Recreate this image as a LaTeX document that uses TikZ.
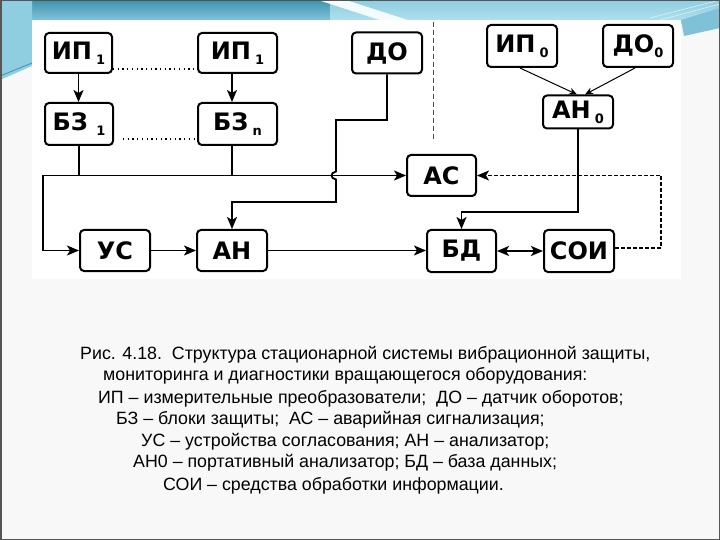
\documentclass[tikz,border=0pt]{standalone}
\usepackage{fontspec}
\setmainfont{Liberation Sans}
\newfontfamily\boxfont{DejaVu Sans}
\usetikzlibrary{arrows.meta}
\definecolor{slidebg}{HTML}{F8F8F8}
\definecolor{tealdark}{HTML}{3F93AE}
\definecolor{teallight}{HTML}{8FCDE0}
\definecolor{tealpale}{HTML}{B5E3EF}
\definecolor{framegray}{HTML}{555555}
\newcommand\sbs[1]{\raisebox{-5pt}{\fontsize{13}{13}\selectfont #1}}
\begin{document}
\begin{tikzpicture}[x=1pt,y=-1pt,
  blk/.style={draw, line width=2pt, rounded corners=4pt, fill=white,
    font=\boxfont\bfseries\fontsize{24}{24}\selectfont, inner sep=0pt},
  ln/.style={line width=1.8pt},
  arr/.style={ln, -{Stealth[length=12pt,width=10pt,inset=3pt]}},
  dblarr/.style={ln, {Stealth[length=12pt,width=10pt,inset=3pt]}-{Stealth[length=12pt,width=10pt,inset=3pt]}},
  thinarr/.style={line width=1pt, -{Stealth[length=8pt,width=7pt]}},
  dasharr/.style={line width=1.3pt, dash pattern=on 4pt off 2pt, -{Stealth[length=12pt,width=10pt,inset=3pt]}},
  dots/.style={line width=1.3pt, dash pattern=on 1.3pt off 3.4pt},
  captext/.style={anchor=base west, font=\fontsize{17.8}{17.8}\selectfont, inner sep=0pt}
]
\useasboundingbox (0,0) rectangle (720,540);
% slide background
\fill[slidebg] (0,0) rectangle (720,540);
\shade[top color=tealdark, bottom color=teallight] (0,0) rectangle (330,24);
\shade[top color=teallight, bottom color=tealpale] (330,0) rectangle (720,24);
\fill[white!85!tealpale] (318,0) -- (346,0) -- (420,24) -- (392,24) -- cycle;
\fill[teallight] (0,0) -- (32,0) -- (32,66) -- (0,80) -- cycle;
\draw[tealdark, line width=0.8pt] (0,76) -- (32,63);
\fill[teallight!80!tealdark] (681,20) -- (720,8) -- (720,28) -- (684,36) -- cycle;
\draw[white!70!teallight, line width=0.6pt] (650,18) -- (720,0);
\draw[white!70!teallight, line width=0.6pt] (660,20) -- (720,4);
% picture area
\fill[white] (32,20) rectangle (681,279);
\draw[framegray, line width=1.5pt] (0.75,0.75) rectangle (719.25,539.25);

% nodes
\node[blk, minimum width=67pt, minimum height=40pt] (ip1) at (78.5,53) {ИП\,\sbs{1}};
\node[blk, minimum width=79pt, minimum height=40pt] (ip2) at (237.5,53) {ИП\,\sbs{1}};
\node[blk, minimum width=68pt, minimum height=42pt] (bz1) at (79,124) {БЗ \sbs{1}};
\node[blk, minimum width=79pt, minimum height=42pt] (bzn) at (237.5,124) {БЗ\,\sbs{n}};
\node[blk, minimum width=70pt, minimum height=41pt] (do) at (387,53) {ДО};
\node[blk, minimum width=70pt, minimum height=42pt] (ip0) at (522,46) {ИП\,\sbs{0}};
\node[blk, minimum width=70pt, minimum height=42pt] (do0) at (638,46) {ДО\sbs{0}};
\node[blk, minimum width=70pt, minimum height=33pt] (an0) at (578,112) {АН\,\sbs{0}};
\node[blk, minimum width=69pt, minimum height=41pt] (ac) at (441.5,175.5) {АС};
\node[blk, minimum width=69pt, minimum height=42pt] (bd) at (461.5,251) {БД};
\node[blk, minimum width=70pt, minimum height=42pt] (soi) at (579,251) {СОИ};
\node[blk, minimum width=70pt, minimum height=41pt] (us) at (115,250.5) {УС};
\node[blk, minimum width=70pt, minimum height=41pt] (an) at (232,250.5) {АН};

% coordinates
\coordinate (jl) at (43,175.5);
\coordinate (d1) at (336,120);
\coordinate (d2) at (336,202);
\coordinate (a1) at (578,212);
\coordinate (s1) at (661,175.5);
\coordinate (v1) at (433,22);
\coordinate (v2) at (433,140);

% connectors
\draw[arr] (ip1.south) -- (bz1.north -| ip1.south);
\draw[arr] ([xshift=-5.5pt]ip2.south) -- ([xshift=-5.5pt]bzn.north);
\draw[dots] ([yshift=5pt]ip1.south east) -- ([yshift=5pt]ip2.south west);
\draw[dots] ([xshift=9pt,yshift=7pt]bz1.south east) -- ([yshift=7pt]bzn.south west);
\draw[ln] (bz1.south) -- (bz1.south |- jl);
\draw[ln] ([xshift=-5.5pt]bzn.south) -- ([xshift=-5.5pt]bzn.south |- jl);
\draw[arr] (jl) -- (ac.west);
\draw[arr] (jl) |- (us.west);
\draw[arr] (us.east) -- (an.west);
\draw[arr] (an.east) -- (bd.west |- an.east);
\draw[dblarr] (bd.east) -- (soi.west);
\draw[arr] (do.south) |- (d1) -- (336,171.5) .. controls (330,172.5) and (330,178.5) .. (336,179.5) -- (d2) -| (an.north);
\draw[arr] (an0.south) -- (a1) -| (bd.north);
\draw[thinarr] ([xshift=-2pt]ip0.south) -- ([xshift=-1pt]an0.north);
\draw[thinarr] ([xshift=-3pt]do0.south) -- ([xshift=7pt]an0.north);
\draw[dasharr] ([yshift=3pt]soi.east) -| (s1) -- (ac.east);
\draw[line width=0.8pt, dash pattern=on 5pt off 3pt, black!70] (v1) -- (v2);

% caption
\node[captext] (c1) at (80,359) {Рис. 4.18.\ \ Структура стационарной системы вибрационной защиты,};
\node[captext] (c2) at (103,380) {мониторинга и диагностики вращающегося оборудования:};
\node[captext] (c3) at (98,403) {ИП – измерительные преобразователи;\ \ ДО – датчик оборотов;};
\node[captext] (c4) at (116,424) {БЗ – блоки защиты;\ \ АС – аварийная сигнализация;};
\node[captext] (c5) at (141,446) {УС – устройства согласования; АН – анализатор;};
\node[captext] (c6) at (133,467) {АН0 – портативный анализатор; БД – база данных;};
\node[captext] (c7) at (163,490) {СОИ – средства обработки информации.};
\end{tikzpicture}
\end{document}
